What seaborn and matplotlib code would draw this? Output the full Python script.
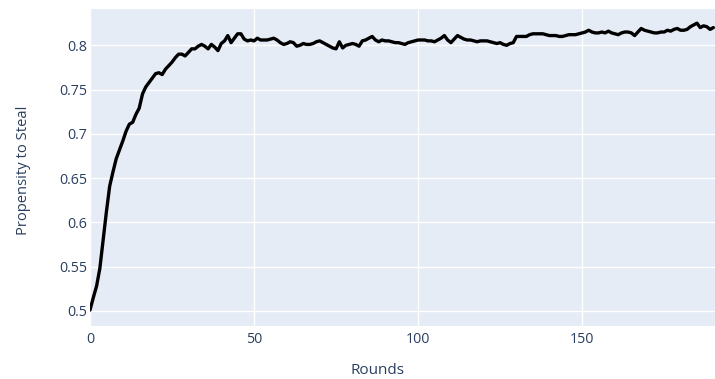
import matplotlib
matplotlib.use("Agg")
import matplotlib.pyplot as plt
import seaborn as sns
import pandas as pd

# Mean propensity to steal per round
rounds = list(range(191))
propensity = [
    0.501, 0.515, 0.528, 0.548, 0.580, 0.612, 0.641, 0.657, 0.672, 0.682,
    0.692, 0.703, 0.711, 0.713, 0.722, 0.729, 0.745, 0.753, 0.758, 0.763,
    0.768, 0.769, 0.767, 0.773, 0.777, 0.781, 0.786, 0.790, 0.790, 0.788,
    0.792, 0.796, 0.796, 0.799, 0.801, 0.799, 0.796, 0.801, 0.798, 0.794,
    0.802, 0.805, 0.811, 0.803, 0.808, 0.813, 0.813, 0.807, 0.805, 0.806,
    0.805, 0.808, 0.806, 0.806, 0.806, 0.807, 0.808, 0.806, 0.803, 0.801,
    0.802, 0.804, 0.803, 0.799, 0.800, 0.802, 0.801, 0.801, 0.802, 0.804,
    0.805, 0.803, 0.801, 0.799, 0.797, 0.796, 0.804, 0.797, 0.800, 0.801,
    0.802, 0.801, 0.799, 0.805, 0.806, 0.808, 0.810, 0.806, 0.804, 0.806,
    0.805, 0.805, 0.804, 0.803, 0.803, 0.802, 0.801, 0.803, 0.804, 0.805,
    0.806, 0.806, 0.806, 0.805, 0.805, 0.804, 0.806, 0.808, 0.811, 0.806,
    0.803, 0.807, 0.811, 0.809, 0.807, 0.806, 0.806, 0.805, 0.804, 0.805,
    0.805, 0.805, 0.804, 0.803, 0.802, 0.803, 0.801, 0.800, 0.802, 0.803,
    0.810, 0.810, 0.810, 0.810, 0.812, 0.813, 0.813, 0.813, 0.813, 0.812,
    0.811, 0.811, 0.811, 0.810, 0.810, 0.811, 0.812, 0.812, 0.812, 0.813,
    0.814, 0.815, 0.817, 0.815, 0.814, 0.814, 0.815, 0.814, 0.816, 0.814,
    0.813, 0.812, 0.814, 0.815, 0.815, 0.814, 0.811, 0.815, 0.819, 0.817,
    0.816, 0.815, 0.814, 0.814, 0.815, 0.815, 0.817, 0.816, 0.818, 0.819,
    0.817, 0.817, 0.818, 0.821, 0.823, 0.825, 0.820, 0.822, 0.821, 0.818,
    0.820,
]
x_ticks = [0, 50, 100, 150]
y_ticks = [0.5, 0.55, 0.6, 0.65, 0.7, 0.75, 0.8]
y_tick_labels = ["0.5", "0.55", "0.6", "0.65", "0.7", "0.75", "0.8"]

df = pd.DataFrame({"Rounds": rounds, "Propensity to Steal": propensity})

sns.set_theme(style="darkgrid")
plt.rcParams["font.family"] = ["Open Sans", "DejaVu Sans"]

text_color = "#2a3f5f"
fig = plt.figure(figsize=(7.15, 3.79), dpi=100)
ax = fig.add_axes([90 / 715, 53 / 379, 625 / 715, 317 / 379])
ax.set_facecolor("#E5ECF6")

sns.lineplot(data=df, x="Rounds", y="Propensity to Steal", ax=ax,
             color="black", linewidth=2.4)

ax.set_xlim(0, 190.5)
ax.set_ylim(0.483, 0.841)
ax.set_xticks(x_ticks)
ax.set_yticks(y_ticks)
ax.set_yticklabels(y_tick_labels)
ax.grid(True, color="white", linewidth=1.0)
ax.set_axisbelow(True)
for s in ax.spines.values():
    s.set_visible(False)

ax.tick_params(axis="both", length=0, labelsize=10.3, colors=text_color)
ax.tick_params(axis="x", pad=4)
ax.tick_params(axis="y", pad=2)

ax.set_xlabel("Rounds", fontsize=11, color=text_color)
ax.set_ylabel("Propensity to Steal", fontsize=10.6, color=text_color)
ax.xaxis.set_label_coords(0.4605, -0.117)
ax.yaxis.set_label_coords(-0.094, 0.49)

fig.savefig("out.png", dpi=100)
